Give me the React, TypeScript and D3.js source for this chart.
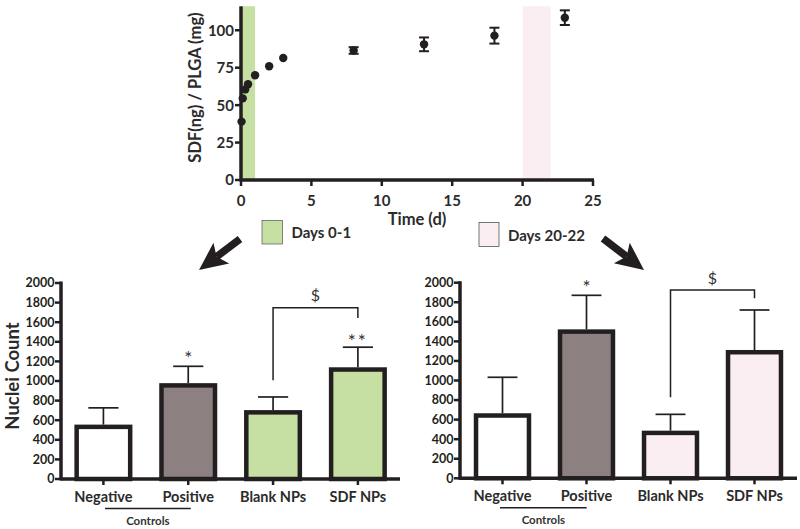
import React from "react";
import * as d3 from "d3";

// ---------- Data ----------
const releaseTime = [0.04, 0.125, 0.3, 0.5, 1, 2, 3, 8, 13, 18, 23];
const releaseValue = [39, 54.5, 60.5, 64, 70, 76, 81.5, 86.5, 90.6, 96.4, 108.4];
const releaseErr = [0, 0, 0, 0, 0, 0, 0, 2.2, 4.6, 5.3, 4.9];
const topYTicks = [0, 25, 50, 75, 100];
const topXTicks = [0, 5, 10, 15, 20, 25];

const categories = ["Negative", "Positive", "Blank NPs", "SDF NPs"];
const leftValues = [555, 978, 703, 1140];
const leftErr = [171, 172, 134, 205];
const rightValues = [665, 1523, 487, 1312];
const rightErr = [368, 348, 167, 409];
const barYTicks = [0, 200, 400, 600, 800, 1000, 1200, 1400, 1600, 1800, 2000];

// significance: [categoryIndex, value, label]
const leftStars: [number, number, string][] = [[1, 1283, "*"], [3, 1462, "**"]];
const rightStars: [number, number, string][] = [[1, 2000, "*"]];
const leftBracket = { from: 2, to: 3, start: 1008, top: 1747, end: 1643, label: "$", labelValue: 1875 };
const rightBracket = { from: 2, to: 3, start: 828, top: 1925, end: 1840, label: "$", labelValue: 2048 };

const INK = "#231f20";
const GREEN = "#c6e0a4";
const PINK = "#fbeef2";
const GREY = "#8c8080";
const FONT = "Lato, 'Open Sans', sans-serif";

type BarProps = {
  values: number[];
  errs: number[];
  fills: string[];
  x0: number;
  x1: number;
  axisX: number;
  axisRight: number;
  y0: number;
  yTop: number;
  stars: [number, number, string][];
  bracket: typeof leftBracket;
  controlsLine: [number, number];
};

function BarChart(p: BarProps) {
  const x = d3.scaleBand<string>().domain(categories).range([p.x0, p.x1]).paddingInner(0.316).paddingOuter(0.158);
  const y = d3.scaleLinear().domain([0, 2000]).range([p.y0, p.yTop]);
  const bw = x.bandwidth();
  const cx = (i: number) => (x(categories[i]) as number) + bw / 2;
  const b = p.bracket;
  return (
    <g>
      {categories.map((c, i) => {
        const xc = cx(i);
        const top = y(p.values[i]);
        const et = y(p.values[i] + p.errs[i]);
        return (
          <g key={c}>
            <line x1={xc} x2={xc} y1={top} y2={et} stroke={INK} strokeWidth={1.7} />
            <line x1={xc - bw * 0.26} x2={xc + bw * 0.26} y1={et} y2={et} stroke={INK} strokeWidth={1.7} />
            <rect x={(x(c) as number) + 2.25} y={top + 2.25} width={bw - 4.5} height={p.y0 - top - 2.25} fill={p.fills[i]} stroke={INK} strokeWidth={4.5} />
          </g>
        );
      })}
      <line x1={p.axisX} x2={p.axisX} y1={p.yTop - 1.5} y2={p.y0 + 1.5} stroke={INK} strokeWidth={3.5} />
      {barYTicks.map((t) => (
        <g key={t}>
          <line x1={p.axisX - 6} x2={p.axisX} y1={y(t)} y2={y(t)} stroke={INK} strokeWidth={2.5} />
          <text x={p.axisX - 6.5} y={y(t)} dy="0.35em" textAnchor="end" fontFamily={FONT} fontWeight={700} fontSize={12.5} fill={INK}>
            {t}
          </text>
        </g>
      ))}
      <line x1={p.axisX} x2={p.axisRight} y1={p.y0} y2={p.y0} stroke={INK} strokeWidth={3.5} />
      {categories.map((c, i) => (
        <g key={c}>
          <line x1={cx(i)} x2={cx(i)} y1={p.y0} y2={p.y0 + 6} stroke={INK} strokeWidth={2.5} />
          <text x={cx(i)} y={p.y0 + 23} textAnchor="middle" fontFamily={FONT} fontWeight={700} fontSize={14.5} fill="#2b2b2b">
            {c}
          </text>
        </g>
      ))}
      <line x1={p.controlsLine[0]} x2={p.controlsLine[1]} y1={p.y0 + 29.5} y2={p.y0 + 29.5} stroke={INK} strokeWidth={1.5} />
      <text x={(p.controlsLine[0] + p.controlsLine[1]) / 2} y={p.y0 + 46} textAnchor="middle" fontFamily={FONT} fontWeight={700} fontSize={11.5} fill="#333">
        Controls
      </text>
      {p.stars.map(([i, v, s]) => (
        <text key={i} x={cx(i)} y={y(v)} dy="0.62em" textAnchor="middle" fontFamily={FONT} fontSize={19} fill="#333" letterSpacing={s.length > 1 ? 2 : 0}>
          {s}
        </text>
      ))}
      <path d={`M${cx(b.from)},${y(b.start)}V${y(b.top)}H${cx(b.to)}V${y(b.end)}`} fill="none" stroke={INK} strokeWidth={1.5} />
      <text x={(cx(b.from) + cx(b.to)) / 2} y={y(b.labelValue)} dy="0.35em" textAnchor="middle" fontFamily={FONT} fontSize={16} fill="#333">
        {b.label}
      </text>
    </g>
  );
}

function Arrow({ x1, y1, x2, y2 }: { x1: number; y1: number; x2: number; y2: number }) {
  const ang = Math.atan2(y2 - y1, x2 - x1);
  const headLen = 28;
  const headHalf = 13;
  const bx = x2 - headLen * Math.cos(ang);
  const by = y2 - headLen * Math.sin(ang);
  const nx = -Math.sin(ang);
  const ny = Math.cos(ang);
  const notch = 6;
  const nxp = bx + notch * Math.cos(ang);
  const nyp = by + notch * Math.sin(ang);
  return (
    <g fill={INK}>
      <line x1={x1} y1={y1} x2={nxp} y2={nyp} stroke={INK} strokeWidth={7.5} />
      <path d={`M${x2},${y2}L${bx + nx * headHalf},${by + ny * headHalf}L${nxp},${nyp}L${bx - nx * headHalf},${by - ny * headHalf}Z`} />
    </g>
  );
}

export default function App() {
  const x = d3.scaleLinear().domain([0, 25]).range([241, 593]);
  const y = d3.scaleLinear().domain([0, 116]).range([180, 6.3]);
  return (
    <svg width={800} height={529} style={{ position: "absolute", left: 0, top: 0, background: "#fff" }}>
      <rect width={800} height={529} fill="#fff" />
      <rect x={x(0)} y={y(116)} width={x(1) - x(0)} height={y(0) - y(116)} fill={GREEN} />
      <rect x={x(20)} y={y(116)} width={x(22) - x(20)} height={y(0) - y(116)} fill={PINK} />
      {releaseTime.map((t, i) =>
        releaseErr[i] > 0 ? (
          <g key={"e" + i} stroke={INK} strokeWidth={2}>
            <line x1={x(t)} x2={x(t)} y1={y(releaseValue[i] - releaseErr[i])} y2={y(releaseValue[i] + releaseErr[i])} />
            <line x1={x(t) - 5} x2={x(t) + 5} y1={y(releaseValue[i] - releaseErr[i])} y2={y(releaseValue[i] - releaseErr[i])} />
            <line x1={x(t) - 5} x2={x(t) + 5} y1={y(releaseValue[i] + releaseErr[i])} y2={y(releaseValue[i] + releaseErr[i])} />
          </g>
        ) : null
      )}
      {releaseTime.map((t, i) => (
        <circle key={"p" + i} cx={x(t)} cy={y(releaseValue[i])} r={4.2} fill={INK} />
      ))}
      <line x1={x(0)} x2={x(0)} y1={y(116)} y2={y(0) + 1.5} stroke={INK} strokeWidth={3.5} />
      <line x1={x(0)} x2={x(25) + 1} y1={y(0)} y2={y(0)} stroke={INK} strokeWidth={3.5} />
      {topYTicks.map((t) => (
        <g key={"yt" + t}>
          <line x1={x(0) - 6} x2={x(0)} y1={y(t)} y2={y(t)} stroke={INK} strokeWidth={2.5} />
          <text x={x(0) - 7} y={y(t)} dy="0.36em" textAnchor="end" fontFamily={FONT} fontWeight={700} fontSize={15} fill="#2b2b2b">
            {t}
          </text>
        </g>
      ))}
      {topXTicks.map((t) => (
        <g key={"xt" + t}>
          <line x1={x(t)} x2={x(t)} y1={y(0)} y2={y(0) + 6} stroke={INK} strokeWidth={2.5} />
          <text x={x(t)} y={y(0) + 26} textAnchor="middle" fontFamily={FONT} fontWeight={700} fontSize={15} fill="#2b2b2b">
            {t}
          </text>
        </g>
      ))}
      <text x={417} y={225} textAnchor="middle" fontFamily={FONT} fontWeight={700} fontSize={16.5} fill="#2b2b2b">
        Time (d)
      </text>
      <text transform={`translate(195,87.5) rotate(-90)`} dy="0.35em" textAnchor="middle" fontFamily={FONT} fontWeight={700} fontSize={16.5} fill="#2b2b2b">
        SDF(ng) / PLGA (mg)
      </text>
      <rect x={262} y={220.5} width={20.5} height={23.5} fill={GREEN} stroke="#666" strokeWidth={0.8} />
      <text x={291.5} y={237.5} fontFamily={FONT} fontWeight={700} fontSize={15} fill="#2b2b2b">
        Days 0-1
      </text>
      <rect x={479} y={222.5} width={20} height={24} fill={PINK} stroke="#555" strokeWidth={0.8} />
      <text x={508} y={241} fontFamily={FONT} fontWeight={700} fontSize={15} fill="#2b2b2b">
        Days 20-22
      </text>
      <Arrow x1={240} y1={239} x2={199} y2={270} />
      <Arrow x1={603} y1={238.5} x2={644} y2={270} />
      <text transform={`translate(13,376) rotate(-90)`} dy="0.35em" textAnchor="middle" fontFamily={FONT} fontWeight={700} fontSize={18.5} fill="#2b2b2b">
        Nuclei Count
      </text>
      <BarChart
        values={leftValues}
        errs={leftErr}
        fills={["#ffffff", GREY, GREEN, GREEN]}
        x0={61}
        x1={400.3}
        axisX={61}
        axisRight={400}
        y0={479}
        yTop={283}
        stars={leftStars}
        bracket={leftBracket}
        controlsLine={[105, 190.7]}
      />
      <BarChart
        values={rightValues}
        errs={rightErr}
        fills={["#ffffff", GREY, PINK, PINK]}
        x0={460.5}
        x1={796.5}
        axisX={460}
        axisRight={797}
        y0={478.3}
        yTop={282.7}
        stars={rightStars}
        bracket={rightBracket}
        controlsLine={[500, 586.7]}
      />
    </svg>
  );
}
